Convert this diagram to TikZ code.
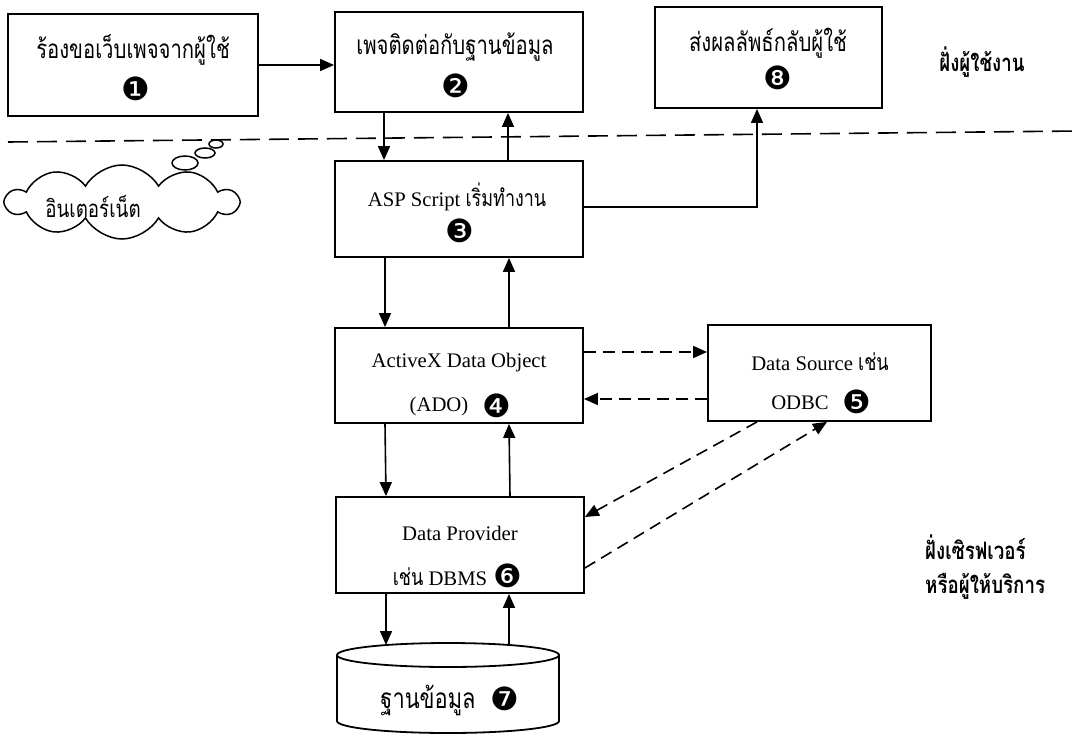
\documentclass[tikz,border=0pt]{standalone}
\usepackage{fontspec}
\setmainfont{Liberation Serif}
\newfontfamily\thai[Script=Thai,FakeStretch=0.78]{Loma}
\newfontfamily\dv{DejaVu Sans}
\usetikzlibrary{arrows.meta,shapes.symbols}
\begin{document}
\begin{tikzpicture}[x=1pt,y=-1pt,
  box/.style={draw, line width=1.8pt, rectangle, inner sep=0pt},
  arr/.style={line width=1.6pt, -{Triangle[length=14pt,width=12pt]}},
  darr/.style={arr, dash pattern=on 12pt off 7pt},
  sepline/.style={line width=1.6pt, dash pattern=on 20pt off 9pt},
  th/.style={font=\thai\fontsize{26}{28}\selectfont, inner sep=0pt},
  thb/.style={font=\thai\bfseries\fontsize{24}{26}\selectfont, inner sep=0pt},
  lat/.style={font=\fontsize{20.7}{22}\selectfont, inner sep=0pt},
  num/.style={font=\dv\fontsize{32}{34}\selectfont, inner sep=0pt},
  bubble/.style={draw, line width=1.5pt}]
\newcommand{\thin}[1]{{\thai\fontsize{23}{26}\selectfont #1}}
\useasboundingbox (0,0) rectangle (1078,736);

% client / server separator
\coordinate (sepL) at (8,142);
\coordinate (sepR) at (1078,131);
\draw[sepline] (sepL) -- (sepR);

% boxes
\node[box, minimum width=250pt, minimum height=102pt] (b1) at (133,65) {};
\node[box, minimum width=248pt, minimum height=100pt] (b2) at (459,62) {};
\node[box, minimum width=227pt, minimum height=101pt] (b8) at (768.5,57.5) {};
\node[box, minimum width=248pt, minimum height=96pt] (b3) at (459,209) {};
\node[box, minimum width=248pt, minimum height=95pt] (b4) at (459,375.5) {};
\node[box, minimum width=223pt, minimum height=96pt] (b5) at (819.5,373) {};
\node[box, minimum width=248pt, minimum height=96pt] (b6) at (460,545) {};

% database cylinder
\draw[line width=1.8pt] (337,655) -- (337,721)
  arc[start angle=180, end angle=360, x radius=111pt, y radius=12pt] -- (559,655);
\draw[line width=1.8pt] (448,655) ellipse [x radius=111pt, y radius=12pt];
\coordinate (dbL) at (386,645);
\coordinate (dbR) at (509,645);

% internet cloud
\node[cloud, draw, line width=1.5pt, cloud puffs=10, cloud puff arc=120, aspect=3.1,
      minimum width=231pt, minimum height=74pt, inner sep=0pt] (cloud) at (122,202) {};
\draw[bubble] (185,163) ellipse [x radius=13pt, y radius=7pt];
\draw[bubble] (205,153) ellipse [x radius=10pt, y radius=5pt];
\draw[bubble] (216,144) ellipse [x radius=7pt, y radius=4pt];

% texts
\node[th] (t1) at (133,50) {ร้องขอเว็บเพจจากผู้ใช้};
\node[num] (n1) at (136,89) {❶};
\node[th] (t2) at (455,47) {เพจติดต่อกับฐานข้อมูล};
\node[num] (n2) at (456,86) {❷};
\node[th] (t8) at (768,43) {ส่งผลลัพธ์กลับผู้ใช้};
\node[num] (n8) at (778,78) {❽};
\node[lat] (t3) at (457,197) {ASP Script \thin{เริ่มทำงาน}};
\node[num] (n3) at (460,231) {❸};
\node[lat] (t4) at (459,363) {ActiveX Data Object};
\node[lat] (t4b) at (439,407) {(ADO)};
\node[num] (n4) at (497,406) {❹};
\node[lat] (t5) at (820,362) {Data Source \thin{เช่น}};
\node[lat] (t5b) at (800,403) {ODBC};
\node[num] (n5) at (857,402) {❺};
\node[lat] (t6) at (460,533) {Data Provider};
\node[lat] (t6b) at (440,577) {\thin{เช่น} DBMS};
\node[num] (n6) at (508,576) {❻};
\node[font=\thai\fontsize{28}{30}\selectfont, inner sep=0pt] (t7) at (428,700) {ฐานข้อมูล};
\node[num] (n7) at (505,699) {❼};
\node[font=\thai\fontsize{24}{26}\selectfont, inner sep=0pt] (tc) at (93,206) {อินเตอร์เน็ต};
\node[thb] (side1) at (982,62) {ฝั่งผู้ใช้งาน};
\node[thb, anchor=west] (side2) at (925,547) {ฝั่งเซิรฟเวอร์};
\node[thb, anchor=west] (side3) at (925,586) {หรือผู้ให้บริการ};

% connectors
\draw[arr] (b1.east) -- (b1.east -| b2.west);
\draw[arr] ([xshift=-75pt]b2.south) -- ([xshift=-75pt]b3.north);
\draw[arr] ([xshift=49pt]b3.north) -- ([xshift=49pt]b2.south);
\draw[arr] ([yshift=2pt]b3.east) -| ([xshift=-11.5pt]b8.south);
\draw[arr] ([xshift=-74pt]b3.south) -- ([xshift=-74pt]b4.north);
\draw[arr] ([xshift=50pt]b4.north) -- ([xshift=50pt]b3.south);
\draw[darr] ([yshift=23.5pt]b4.east) -- ([yshift=23.5pt]b4.east -| b5.west);
\draw[darr] ([yshift=-23.5pt]b4.east -| b5.west) -- ([yshift=-23.5pt]b4.east);
\draw[arr] ([xshift=-74pt]b4.south) -- ([xshift=-74pt]b6.north);
\draw[arr] ([xshift=50pt]b6.north) -- ([xshift=50pt]b4.south);
\draw[darr] ([xshift=-62.5pt]b5.south) -- ([yshift=28pt]b6.east);
\draw[darr] ([yshift=-23pt]b6.east) -- ([xshift=7.5pt]b5.south);
\draw[arr] ([xshift=-74pt]b6.south) -- (dbL);
\draw[arr] (dbR) -- ([xshift=49pt]b6.south);
\end{tikzpicture}
\end{document}
